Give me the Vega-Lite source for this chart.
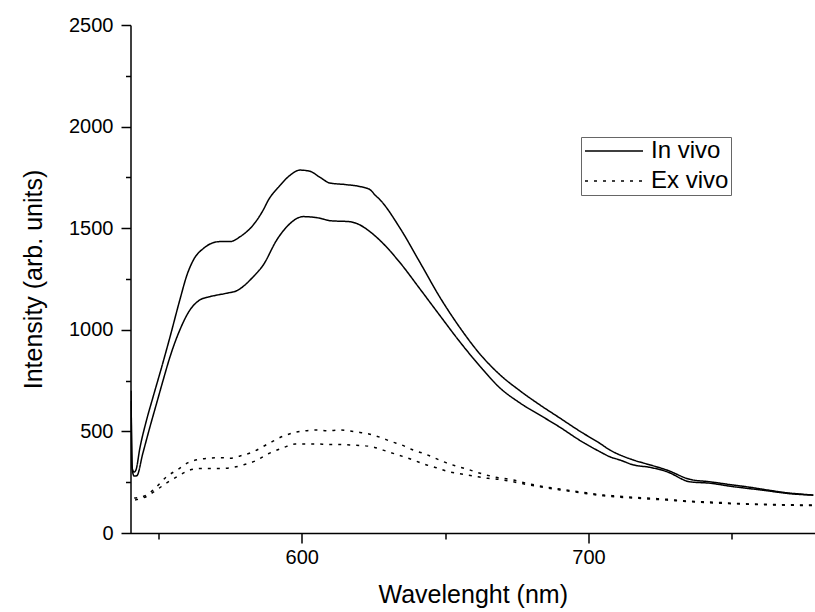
{
"$schema": "https://vega.github.io/schema/vega-lite/v6.json",
"width": 684.5, "height": 508,
"autosize": {"type": "none"},
"padding": {"left": 130.5, "top": 25, "right": 0, "bottom": 79},
"background": "white",
"config": {"font": "Liberation Sans", "view": {"stroke": null},
  "axis": {"grid": false, "domainColor": "black", "tickColor": "black", "labelColor": "black", "titleColor": "black", "domainWidth": 1.5, "tickWidth": 1.5, "labelFont": "Liberation Sans", "titleFont": "Liberation Sans", "titleFontWeight": "normal"}},
"datasets": {
"curves": [
{"curve":"A","type":"In vivo","wavelength":540.5,"intensity":700},
{"curve":"A","type":"In vivo","wavelength":540.8,"intensity":330},
{"curve":"A","type":"In vivo","wavelength":541.2,"intensity":305},
{"curve":"A","type":"In vivo","wavelength":541.6,"intensity":300},
{"curve":"A","type":"In vivo","wavelength":542.2,"intensity":310},
{"curve":"A","type":"In vivo","wavelength":543.6,"intensity":420},
{"curve":"A","type":"In vivo","wavelength":545.9,"intensity":556},
{"curve":"A","type":"In vivo","wavelength":548.2,"intensity":671},
{"curve":"A","type":"In vivo","wavelength":551.2,"intensity":818},
{"curve":"A","type":"In vivo","wavelength":554.1,"intensity":966},
{"curve":"A","type":"In vivo","wavelength":557.5,"intensity":1147},
{"curve":"A","type":"In vivo","wavelength":560.0,"intensity":1270},
{"curve":"A","type":"In vivo","wavelength":562.5,"intensity":1350},
{"curve":"A","type":"In vivo","wavelength":565.7,"intensity":1400},
{"curve":"A","type":"In vivo","wavelength":569.0,"intensity":1428},
{"curve":"A","type":"In vivo","wavelength":571.5,"intensity":1434},
{"curve":"A","type":"In vivo","wavelength":575.0,"intensity":1434},
{"curve":"A","type":"In vivo","wavelength":578.5,"intensity":1458},
{"curve":"A","type":"In vivo","wavelength":583.1,"intensity":1516},
{"curve":"A","type":"In vivo","wavelength":586.6,"intensity":1590},
{"curve":"A","type":"In vivo","wavelength":588.4,"intensity":1639},
{"curve":"A","type":"In vivo","wavelength":592.4,"intensity":1710},
{"curve":"A","type":"In vivo","wavelength":595.9,"intensity":1760},
{"curve":"A","type":"In vivo","wavelength":599.4,"intensity":1786},
{"curve":"A","type":"In vivo","wavelength":602.9,"intensity":1780},
{"curve":"A","type":"In vivo","wavelength":606.4,"intensity":1750},
{"curve":"A","type":"In vivo","wavelength":609.9,"intensity":1722},
{"curve":"A","type":"In vivo","wavelength":615.1,"intensity":1715},
{"curve":"A","type":"In vivo","wavelength":620.3,"intensity":1705},
{"curve":"A","type":"In vivo","wavelength":623.8,"intensity":1690},
{"curve":"A","type":"In vivo","wavelength":625.6,"intensity":1663},
{"curve":"A","type":"In vivo","wavelength":627.3,"intensity":1640},
{"curve":"A","type":"In vivo","wavelength":634.3,"intensity":1500},
{"curve":"A","type":"In vivo","wavelength":641.3,"intensity":1330},
{"curve":"A","type":"In vivo","wavelength":648.2,"intensity":1160},
{"curve":"A","type":"In vivo","wavelength":655.2,"intensity":1010},
{"curve":"A","type":"In vivo","wavelength":662.2,"intensity":880},
{"curve":"A","type":"In vivo","wavelength":669.2,"intensity":778},
{"curve":"A","type":"In vivo","wavelength":676.1,"intensity":700},
{"curve":"A","type":"In vivo","wavelength":683.1,"intensity":630},
{"curve":"A","type":"In vivo","wavelength":690.1,"intensity":565},
{"curve":"A","type":"In vivo","wavelength":697.1,"intensity":500},
{"curve":"A","type":"In vivo","wavelength":704.0,"intensity":441},
{"curve":"A","type":"In vivo","wavelength":707.5,"intensity":408},
{"curve":"A","type":"In vivo","wavelength":711.0,"intensity":384},
{"curve":"A","type":"In vivo","wavelength":715.7,"intensity":359},
{"curve":"A","type":"In vivo","wavelength":721.5,"intensity":335},
{"curve":"A","type":"In vivo","wavelength":727.3,"intensity":310},
{"curve":"A","type":"In vivo","wavelength":735.4,"intensity":264},
{"curve":"A","type":"In vivo","wavelength":742.4,"intensity":252},
{"curve":"A","type":"In vivo","wavelength":750.5,"intensity":236},
{"curve":"A","type":"In vivo","wavelength":756.4,"intensity":225},
{"curve":"A","type":"In vivo","wavelength":762.2,"intensity":212},
{"curve":"A","type":"In vivo","wavelength":769.2,"intensity":198},
{"curve":"A","type":"In vivo","wavelength":778.4,"intensity":187},
{"curve":"B","type":"In vivo","wavelength":540.5,"intensity":650},
{"curve":"B","type":"In vivo","wavelength":540.9,"intensity":320},
{"curve":"B","type":"In vivo","wavelength":541.2,"intensity":290},
{"curve":"B","type":"In vivo","wavelength":541.6,"intensity":280},
{"curve":"B","type":"In vivo","wavelength":542.5,"intensity":282},
{"curve":"B","type":"In vivo","wavelength":544.6,"intensity":392},
{"curve":"B","type":"In vivo","wavelength":547.1,"intensity":523},
{"curve":"B","type":"In vivo","wavelength":549.4,"intensity":638},
{"curve":"B","type":"In vivo","wavelength":551.7,"intensity":753},
{"curve":"B","type":"In vivo","wavelength":554.1,"intensity":868},
{"curve":"B","type":"In vivo","wavelength":557.5,"intensity":999},
{"curve":"B","type":"In vivo","wavelength":561.0,"intensity":1097},
{"curve":"B","type":"In vivo","wavelength":564.5,"intensity":1147},
{"curve":"B","type":"In vivo","wavelength":568.0,"intensity":1163},
{"curve":"B","type":"In vivo","wavelength":573.8,"intensity":1180},
{"curve":"B","type":"In vivo","wavelength":577.3,"intensity":1192},
{"curve":"B","type":"In vivo","wavelength":583.1,"intensity":1261},
{"curve":"B","type":"In vivo","wavelength":586.6,"intensity":1319},
{"curve":"B","type":"In vivo","wavelength":591.3,"intensity":1442},
{"curve":"B","type":"In vivo","wavelength":594.8,"intensity":1507},
{"curve":"B","type":"In vivo","wavelength":600.6,"intensity":1557},
{"curve":"B","type":"In vivo","wavelength":606.4,"intensity":1549},
{"curve":"B","type":"In vivo","wavelength":609.9,"intensity":1537},
{"curve":"B","type":"In vivo","wavelength":616.8,"intensity":1532},
{"curve":"B","type":"In vivo","wavelength":620.3,"intensity":1516},
{"curve":"B","type":"In vivo","wavelength":623.8,"intensity":1483},
{"curve":"B","type":"In vivo","wavelength":627.3,"intensity":1440},
{"curve":"B","type":"In vivo","wavelength":634.3,"intensity":1330},
{"curve":"B","type":"In vivo","wavelength":641.3,"intensity":1200},
{"curve":"B","type":"In vivo","wavelength":648.2,"intensity":1070},
{"curve":"B","type":"In vivo","wavelength":655.2,"intensity":940},
{"curve":"B","type":"In vivo","wavelength":662.2,"intensity":820},
{"curve":"B","type":"In vivo","wavelength":669.2,"intensity":713},
{"curve":"B","type":"In vivo","wavelength":676.1,"intensity":640},
{"curve":"B","type":"In vivo","wavelength":683.1,"intensity":580},
{"curve":"B","type":"In vivo","wavelength":690.1,"intensity":520},
{"curve":"B","type":"In vivo","wavelength":697.1,"intensity":455},
{"curve":"B","type":"In vivo","wavelength":704.0,"intensity":400},
{"curve":"B","type":"In vivo","wavelength":707.5,"intensity":375},
{"curve":"B","type":"In vivo","wavelength":711.0,"intensity":359},
{"curve":"B","type":"In vivo","wavelength":715.7,"intensity":335},
{"curve":"B","type":"In vivo","wavelength":721.5,"intensity":323},
{"curve":"B","type":"In vivo","wavelength":727.3,"intensity":302},
{"curve":"B","type":"In vivo","wavelength":735.4,"intensity":252},
{"curve":"B","type":"In vivo","wavelength":742.4,"intensity":245},
{"curve":"B","type":"In vivo","wavelength":750.5,"intensity":228},
{"curve":"B","type":"In vivo","wavelength":756.4,"intensity":218},
{"curve":"B","type":"In vivo","wavelength":762.2,"intensity":208},
{"curve":"B","type":"In vivo","wavelength":769.2,"intensity":195},
{"curve":"B","type":"In vivo","wavelength":778.4,"intensity":186},
{"curve":"C","type":"Ex vivo","wavelength":541.6,"intensity":172},
{"curve":"C","type":"Ex vivo","wavelength":545.9,"intensity":187},
{"curve":"C","type":"Ex vivo","wavelength":549.4,"intensity":228},
{"curve":"C","type":"Ex vivo","wavelength":552.9,"intensity":277},
{"curve":"C","type":"Ex vivo","wavelength":556.9,"intensity":313},
{"curve":"C","type":"Ex vivo","wavelength":560.4,"intensity":346},
{"curve":"C","type":"Ex vivo","wavelength":564.5,"intensity":363},
{"curve":"C","type":"Ex vivo","wavelength":568.0,"intensity":368},
{"curve":"C","type":"Ex vivo","wavelength":571.5,"intensity":371},
{"curve":"C","type":"Ex vivo","wavelength":575.0,"intensity":368},
{"curve":"C","type":"Ex vivo","wavelength":578.5,"intensity":379},
{"curve":"C","type":"Ex vivo","wavelength":583.1,"intensity":400},
{"curve":"C","type":"Ex vivo","wavelength":588.4,"intensity":440},
{"curve":"C","type":"Ex vivo","wavelength":593.6,"intensity":477},
{"curve":"C","type":"Ex vivo","wavelength":597.7,"intensity":495},
{"curve":"C","type":"Ex vivo","wavelength":601.2,"intensity":503},
{"curve":"C","type":"Ex vivo","wavelength":605.2,"intensity":507},
{"curve":"C","type":"Ex vivo","wavelength":609.3,"intensity":503},
{"curve":"C","type":"Ex vivo","wavelength":612.8,"intensity":507},
{"curve":"C","type":"Ex vivo","wavelength":616.8,"intensity":502},
{"curve":"C","type":"Ex vivo","wavelength":620.3,"intensity":495},
{"curve":"C","type":"Ex vivo","wavelength":623.8,"intensity":486},
{"curve":"C","type":"Ex vivo","wavelength":627.3,"intensity":471},
{"curve":"C","type":"Ex vivo","wavelength":631.4,"intensity":449},
{"curve":"C","type":"Ex vivo","wavelength":634.9,"intensity":433},
{"curve":"C","type":"Ex vivo","wavelength":638.9,"intensity":408},
{"curve":"C","type":"Ex vivo","wavelength":642.4,"intensity":392},
{"curve":"C","type":"Ex vivo","wavelength":645.9,"intensity":372},
{"curve":"C","type":"Ex vivo","wavelength":649.4,"intensity":351},
{"curve":"C","type":"Ex vivo","wavelength":653.5,"intensity":331},
{"curve":"C","type":"Ex vivo","wavelength":657.6,"intensity":315},
{"curve":"C","type":"Ex vivo","wavelength":661.0,"intensity":299},
{"curve":"C","type":"Ex vivo","wavelength":664.5,"intensity":285},
{"curve":"C","type":"Ex vivo","wavelength":668.6,"intensity":272},
{"curve":"C","type":"Ex vivo","wavelength":672.7,"intensity":264},
{"curve":"C","type":"Ex vivo","wavelength":679.6,"intensity":241},
{"curve":"C","type":"Ex vivo","wavelength":690.1,"intensity":216},
{"curve":"C","type":"Ex vivo","wavelength":697.1,"intensity":202},
{"curve":"C","type":"Ex vivo","wavelength":705.2,"intensity":187},
{"curve":"C","type":"Ex vivo","wavelength":709.9,"intensity":182},
{"curve":"C","type":"Ex vivo","wavelength":715.7,"intensity":176},
{"curve":"C","type":"Ex vivo","wavelength":721.5,"intensity":171},
{"curve":"C","type":"Ex vivo","wavelength":727.3,"intensity":166},
{"curve":"C","type":"Ex vivo","wavelength":733.1,"intensity":159},
{"curve":"C","type":"Ex vivo","wavelength":738.9,"intensity":154},
{"curve":"C","type":"Ex vivo","wavelength":744.7,"intensity":151},
{"curve":"C","type":"Ex vivo","wavelength":750.5,"intensity":146},
{"curve":"C","type":"Ex vivo","wavelength":756.4,"intensity":143},
{"curve":"C","type":"Ex vivo","wavelength":762.2,"intensity":141},
{"curve":"C","type":"Ex vivo","wavelength":768.0,"intensity":139},
{"curve":"C","type":"Ex vivo","wavelength":778.4,"intensity":138},
{"curve":"D","type":"Ex vivo","wavelength":541.9,"intensity":162},
{"curve":"D","type":"Ex vivo","wavelength":545.9,"intensity":180},
{"curve":"D","type":"Ex vivo","wavelength":549.4,"intensity":212},
{"curve":"D","type":"Ex vivo","wavelength":553.5,"intensity":252},
{"curve":"D","type":"Ex vivo","wavelength":557.5,"intensity":285},
{"curve":"D","type":"Ex vivo","wavelength":561.0,"intensity":310},
{"curve":"D","type":"Ex vivo","wavelength":564.5,"intensity":318},
{"curve":"D","type":"Ex vivo","wavelength":571.5,"intensity":318},
{"curve":"D","type":"Ex vivo","wavelength":576.1,"intensity":323},
{"curve":"D","type":"Ex vivo","wavelength":579.6,"intensity":335},
{"curve":"D","type":"Ex vivo","wavelength":583.7,"intensity":354},
{"curve":"D","type":"Ex vivo","wavelength":588.4,"intensity":390},
{"curve":"D","type":"Ex vivo","wavelength":593.6,"intensity":420},
{"curve":"D","type":"Ex vivo","wavelength":597.7,"intensity":438},
{"curve":"D","type":"Ex vivo","wavelength":601.2,"intensity":438},
{"curve":"D","type":"Ex vivo","wavelength":605.2,"intensity":438},
{"curve":"D","type":"Ex vivo","wavelength":609.3,"intensity":436},
{"curve":"D","type":"Ex vivo","wavelength":613.3,"intensity":436},
{"curve":"D","type":"Ex vivo","wavelength":616.8,"intensity":433},
{"curve":"D","type":"Ex vivo","wavelength":620.9,"intensity":430},
{"curve":"D","type":"Ex vivo","wavelength":624.4,"intensity":425},
{"curve":"D","type":"Ex vivo","wavelength":628.4,"intensity":408},
{"curve":"D","type":"Ex vivo","wavelength":631.9,"intensity":392},
{"curve":"D","type":"Ex vivo","wavelength":635.4,"intensity":376},
{"curve":"D","type":"Ex vivo","wavelength":639.5,"intensity":356},
{"curve":"D","type":"Ex vivo","wavelength":642.9,"intensity":338},
{"curve":"D","type":"Ex vivo","wavelength":647.0,"intensity":321},
{"curve":"D","type":"Ex vivo","wavelength":650.5,"intensity":305},
{"curve":"D","type":"Ex vivo","wavelength":654.0,"intensity":294},
{"curve":"D","type":"Ex vivo","wavelength":658.1,"intensity":285},
{"curve":"D","type":"Ex vivo","wavelength":661.5,"intensity":277},
{"curve":"D","type":"Ex vivo","wavelength":665.0,"intensity":269},
{"curve":"D","type":"Ex vivo","wavelength":668.6,"intensity":264},
{"curve":"D","type":"Ex vivo","wavelength":679.6,"intensity":236},
{"curve":"D","type":"Ex vivo","wavelength":690.1,"intensity":212},
{"curve":"D","type":"Ex vivo","wavelength":697.1,"intensity":198},
{"curve":"D","type":"Ex vivo","wavelength":705.2,"intensity":183},
{"curve":"D","type":"Ex vivo","wavelength":715.7,"intensity":172},
{"curve":"D","type":"Ex vivo","wavelength":727.3,"intensity":162},
{"curve":"D","type":"Ex vivo","wavelength":738.9,"intensity":151},
{"curve":"D","type":"Ex vivo","wavelength":750.5,"intensity":144},
{"curve":"D","type":"Ex vivo","wavelength":762.2,"intensity":139},
{"curve":"D","type":"Ex vivo","wavelength":778.4,"intensity":135}
]},
"layer": [
{"data": {"name": "curves"},
 "mark": {"type": "line", "strokeWidth": 1.5, "color": "black", "clip": true, "interpolate": "monotone"},
 "encoding": {
  "x": {"field": "wavelength", "type": "quantitative", "scale": {"domain": [540.3, 779], "nice": false, "zero": false},
        "axis": {"orient": "bottom", "values": [600, 700], "tickSize": 10, "labelFontSize": 20, "labelPadding": 4, "title": "Wavelenght (nm)", "titleFontSize": 25, "titlePadding": 15}},
  "y": {"field": "intensity", "type": "quantitative", "scale": {"domain": [0, 2500], "nice": false},
        "axis": {"orient": "left", "values": [0, 500, 1000, 1500, 2000, 2500], "format": "d", "tickSize": 9.5, "labelFontSize": 20, "labelPadding": 8, "title": "Intensity (arb. units)", "titleFontSize": 25, "titlePadding": 22}},
  "strokeDash": {"field": "type", "type": "nominal", "scale": {"domain": ["In vivo", "Ex vivo"], "range": [[1, 0], [3, 6]]},
        "legend": {"orient": "none", "legendX": 450.5, "legendY": 112, "title": null, "labelFontSize": 24, "labelFont": "Liberation Sans", "labelColor": "black",
                   "symbolType": "M-2.9,0H2.9", "symbolSize": 400, "symbolStrokeWidth": 1.5, "symbolStrokeColor": "black", "symbolOffset": 19, "labelOffset": 25,
                   "strokeColor": "#666666", "padding": 2, "rowPadding": 6}},
  "detail": {"field": "curve", "type": "nominal"}
 }},
{"mark": {"type": "rule", "color": "black", "strokeWidth": 1.5},
 "encoding": {
  "x": {"datum": 540.3, "type": "quantitative", "axis": {"orient": "bottom", "values": [550, 650, 750], "tickSize": 6, "labels": false, "domain": false, "title": null}},
  "x2": {"datum": 779},
  "y": {"datum": 2500, "type": "quantitative", "axis": {"orient": "left", "values": [250, 750, 1250, 1750, 2250], "tickSize": 5, "labels": false, "domain": false, "title": null}}
 }}
],
"resolve": {"axis": {"x": "independent", "y": "independent"}}
}
